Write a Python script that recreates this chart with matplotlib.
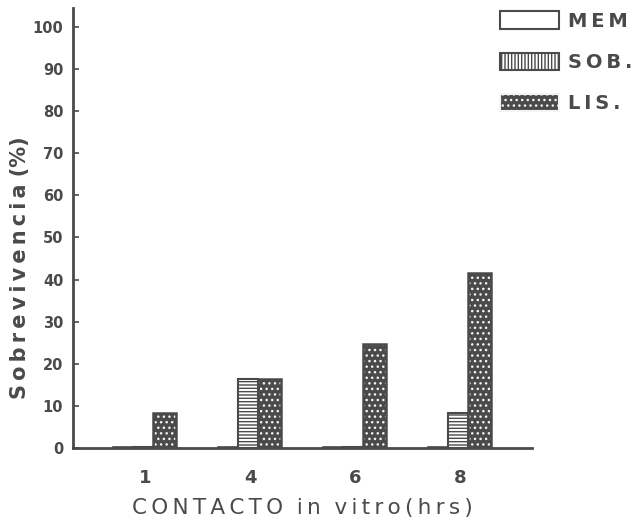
import matplotlib
matplotlib.use("Agg")
import matplotlib.pyplot as plt
from matplotlib.patches import Patch
import numpy as np

categories = ["1", "4", "6", "8"]
mem = [0.3, 0.3, 0.3, 0.3]
sob = [0.3, 16.4, 0.3, 8.3]
lis = [8.3, 16.4, 24.7, 41.6]
yticks = [0, 10, 20, 30, 40, 50, 60, 70, 80, 90, 100]

gray = "#4a4a4a"
TS = "\u2009"
plt.rcParams["hatch.linewidth"] = 1.0

fig = plt.figure(figsize=(6.42, 5.24), dpi=100)
ax = fig.add_axes([0.1137, 0.145, 0.715, 0.84])

x = np.arange(len(categories))
w = 0.19
ax.bar(x - w, mem, w, facecolor="white", edgecolor=gray, linewidth=1.2)
ax.bar(x, sob, w, facecolor="white", edgecolor=gray, hatch="-----", linewidth=1.5)
ax.bar(x + w * 1.05, lis, w * 1.15, facecolor=gray, edgecolor="#f4f4f4", hatch="...", linewidth=0)
ax.bar(x + w * 1.05, lis, w * 1.15, facecolor="none", edgecolor=gray, linewidth=1.8)

ax.set_xlim(-0.667, 3.70)
ax.set_ylim(0, 104.5)
for s in ["top", "right"]:
    ax.spines[s].set_visible(False)
for s in ["left", "bottom"]:
    ax.spines[s].set_color(gray)
    ax.spines[s].set_linewidth(2)

ax.set_yticks(yticks)
ax.set_yticklabels([str(t) for t in yticks], fontsize=10.5, fontweight="bold", color=gray)
ax.tick_params(axis="y", direction="in", length=4, width=1.2, color=gray, pad=7)
ax.set_xticks(x + 0.02)
ax.set_xticklabels(categories, fontsize=13, fontweight="bold", color=gray)
ax.tick_params(axis="x", length=0, pad=15)

xl = TS.join("CONTACTO") + "  " + TS.join("in") + "  " + TS.join("vitro(hrs)")
ax.set_xlabel(xl, fontsize=15.5, color=gray, labelpad=8)
ax.set_ylabel(TS.join("Sobrevivencia") + " " + "(%)", fontsize=15,
              fontweight="bold", color=gray)
ax.yaxis.set_label_coords(-0.094, 0.41)

handles = [
    Patch(facecolor="white", edgecolor=gray, linewidth=1.5),
    Patch(facecolor="white", edgecolor=gray, hatch="|||||", linewidth=1.5),
    Patch(facecolor=gray, edgecolor="#f4f4f4", hatch="...", linewidth=1.5),
]
labels = [TS.join("MEM"), TS.join("SOB."), TS.join("LIS.")]
leg = fig.legend(handles, labels, loc="upper left",
                 bbox_to_anchor=(0.755, 1.008), frameon=False, fontsize=14,
                 handlelength=3.0, handleheight=1.0, labelspacing=1.12, handletextpad=0.5,
                 borderpad=0.3)
for t in leg.get_texts():
    t.set_color(gray)
    t.set_fontweight("bold")

fig.savefig("out.png", dpi=100)
